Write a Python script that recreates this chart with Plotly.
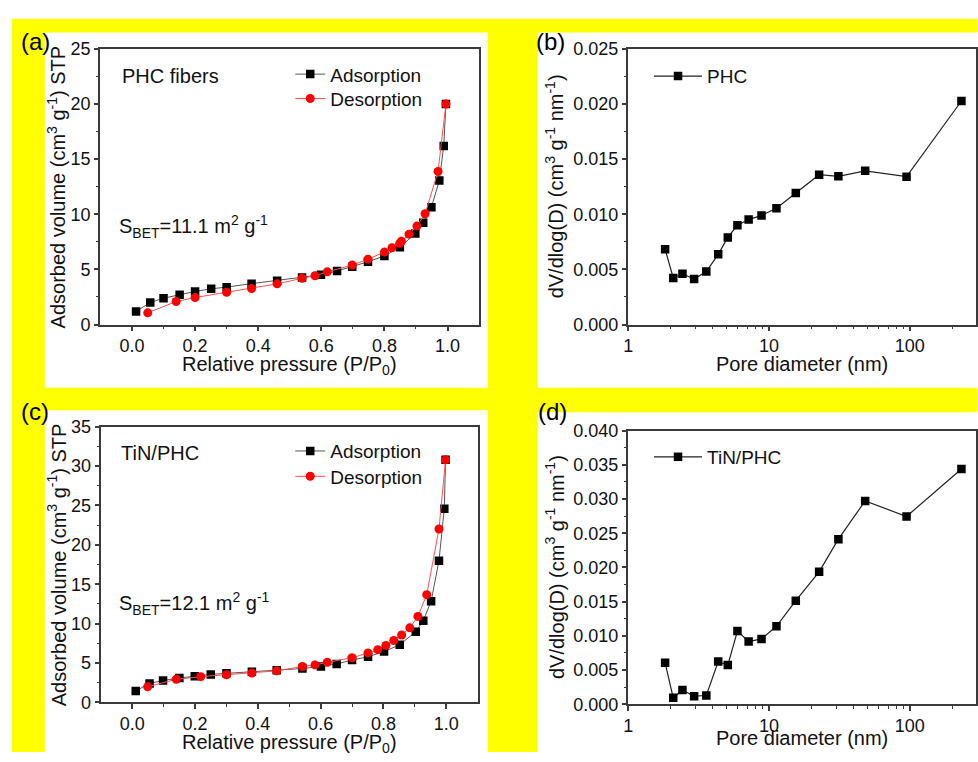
import plotly.graph_objects as go

W, H = 978, 762

# ---- N2 isotherms: relative pressure P/P0 and adsorbed volume (cm3 g-1 STP) ----
phc_ads_p = [0.013, 0.058, 0.10, 0.151, 0.20, 0.251, 0.30, 0.379, 0.46, 0.539, 0.599,
             0.65, 0.698, 0.748, 0.80, 0.849, 0.898, 0.923, 0.949, 0.974, 0.988, 0.995]
phc_ads_v = [1.18, 2.0, 2.39, 2.71, 3.0, 3.24, 3.39, 3.71, 3.98, 4.27, 4.51,
             4.86, 5.25, 5.69, 6.22, 7.02, 8.25, 9.23, 10.64, 13.06, 16.2, 20.0]
phc_des_p = [0.05, 0.14, 0.20, 0.30, 0.379, 0.46, 0.539, 0.58, 0.619, 0.698, 0.748,
             0.80, 0.824, 0.849, 0.854, 0.878, 0.903, 0.929, 0.97, 0.995]
phc_des_v = [1.06, 2.09, 2.45, 2.92, 3.27, 3.69, 4.19, 4.42, 4.78, 5.39, 5.93,
             6.57, 6.96, 7.37, 7.55, 8.2, 8.93, 10.05, 13.89, 20.0]

tin_ads_p = [0.011, 0.055, 0.098, 0.15, 0.199, 0.25, 0.30, 0.381, 0.46, 0.542, 0.601,
             0.651, 0.70, 0.751, 0.802, 0.852, 0.903, 0.927, 0.952, 0.977, 0.994, 0.998]
tin_ads_v = [1.45, 2.40, 2.77, 3.10, 3.31, 3.55, 3.68, 3.88, 4.09, 4.30, 4.55,
             4.88, 5.37, 5.79, 6.45, 7.31, 8.97, 10.37, 12.85, 17.98, 24.59, 30.8]
tin_des_p = [0.049, 0.14, 0.218, 0.30, 0.381, 0.46, 0.542, 0.582, 0.621, 0.70, 0.751,
             0.782, 0.808, 0.833, 0.858, 0.884, 0.91, 0.938, 0.977, 0.998]
tin_des_v = [1.98, 2.93, 3.26, 3.51, 3.72, 4.0, 4.55, 4.75, 5.08, 5.66, 6.28,
             6.69, 7.23, 7.85, 8.56, 9.46, 10.91, 13.68, 22.02, 30.8]

# ---- BJH pore size distributions ----
pore_d = [1.83, 2.09, 2.43, 2.94, 3.59, 4.36, 5.10, 5.97, 7.17, 8.85, 11.3,
          15.5, 22.7, 31.1, 48.2, 94.8, 232.6]
phc_psd = [0.00684, 0.00422, 0.0046, 0.00413, 0.0048, 0.00637, 0.0079, 0.0090, 0.00952,
           0.0099, 0.01055, 0.01194, 0.01359, 0.01344, 0.01394, 0.01341, 0.02028]
tin_psd = [0.00606, 0.00095, 0.0021, 0.00118, 0.00128, 0.00625, 0.00573, 0.0107, 0.00918,
           0.00956, 0.0114, 0.01515, 0.01936, 0.02414, 0.02973, 0.02746, 0.0344]

p_ticks = [0.0, 0.2, 0.4, 0.6, 0.8, 1.0]
p_minor = [0.1, 0.3, 0.5, 0.7, 0.9]
d_ticks = [1, 10, 100]
d_labels = ["1", "10", "100"]
d_minor = [2, 3, 4, 5, 6, 7, 8, 9, 20, 30, 40, 50, 60, 70, 80, 90, 200, 300]

FONT = "Arial, Liberation Sans, sans-serif"
AX = "#3a3a3a"


def fx(px):
    return px / W


def fy(py):
    return 1 - py / H


def minor(**kw):
    d = dict(ticks="outside", ticklen=2.5, tickwidth=1.2, tickcolor=AX)
    d.update(kw)
    return d


def base_axis(**kw):
    d = dict(showline=True, linecolor=AX, linewidth=1.5, mirror=True,
             ticks="outside", ticklen=4.5, tickwidth=1.5, tickcolor=AX,
             showgrid=False, zeroline=False,
             tickfont=dict(family=FONT, size=18, color="#111"))
    d.update(kw)
    return d


fig = go.Figure()

# isotherm panels (each legend entry gets its own legend box)
for xa, ya, la, ld, ap, av, dp, dv in [
        ("x", "y", "legend", "legend5", phc_ads_p, phc_ads_v, phc_des_p, phc_des_v),
        ("x3", "y3", "legend3", "legend6", tin_ads_p, tin_ads_v, tin_des_p, tin_des_v)]:
    fig.add_trace(go.Scatter(
        x=ap, y=av, mode="lines+markers", name="Adsorption", xaxis=xa, yaxis=ya,
        legend=la, showlegend=True, line=dict(color="#555", width=1),
        marker=dict(symbol="square", size=8.5, color="black")))
    fig.add_trace(go.Scatter(
        x=dp, y=dv, mode="lines+markers", name="Desorption", xaxis=xa, yaxis=ya,
        legend=ld, showlegend=True, line=dict(color="#ff5050", width=1),
        marker=dict(symbol="circle", size=9, color="#ff0000")))

# pore size panels
for xa, ya, leg, vals, nm in [("x2", "y2", "legend2", phc_psd, "PHC"),
                              ("x4", "y4", "legend4", tin_psd, "TiN/PHC")]:
    fig.add_trace(go.Scatter(
        x=pore_d, y=vals, mode="lines+markers", name=nm, xaxis=xa, yaxis=ya,
        legend=leg, showlegend=True, line=dict(color="#222", width=1.2),
        marker=dict(symbol="square", size=8.5, color="black")))

# plot-area rectangles in pixels: (left, top, right, bottom)
A = (96, 40, 477, 323)
B = (627, 40, 977, 323)
C = (96.5, 428, 475.5, 711)
D = (627, 432, 977, 713)


def dom(r):
    return [fx(r[0]), fx(r[2])], [fy(r[3]), fy(r[1])]


layout = dict(
    width=W, height=H, margin=dict(l=0, r=0, t=0, b=0),
    paper_bgcolor="white", plot_bgcolor="white", showlegend=True,
    font=dict(family=FONT, color="#111"),
    xaxis=base_axis(domain=dom(A)[0], anchor="y", range=[-0.1, 1.1],
                    tickvals=p_ticks, tickformat=".1f", minor=minor(tickvals=p_minor)),
    yaxis=base_axis(domain=dom(A)[1], anchor="x", range=[0, 25], dtick=5,
                    minor=minor(dtick=2.5)),
    xaxis2=base_axis(domain=dom(B)[0], anchor="y2", type="log", range=[0, 2.47],
                     tickvals=d_ticks, ticktext=d_labels, minor=minor(tickvals=d_minor)),
    yaxis2=base_axis(domain=dom(B)[1], anchor="x2", range=[0, 0.025], dtick=0.005,
                     tickformat=".3f", minor=minor(dtick=0.0025)),
    xaxis3=base_axis(domain=dom(C)[0], anchor="y3", range=[-0.1, 1.1],
                     tickvals=p_ticks, tickformat=".1f", minor=minor(tickvals=p_minor)),
    yaxis3=base_axis(domain=dom(C)[1], anchor="x3", range=[0, 35], dtick=5,
                     minor=minor(dtick=2.5)),
    xaxis4=base_axis(domain=dom(D)[0], anchor="y4", type="log", range=[0, 2.47],
                     tickvals=d_ticks, ticktext=d_labels, minor=minor(tickvals=d_minor)),
    yaxis4=base_axis(domain=dom(D)[1], anchor="x4", range=[0, 0.040], dtick=0.005,
                     tickformat=".3f", minor=minor(dtick=0.0025)),
)

legfont = dict(family=FONT, size=19, color="#111")
for key, lx, ly, iw in [("legend", 287, 66, 30), ("legend5", 287, 91, 30),
                        ("legend2", 648, 68, 48), ("legend4", 648, 459, 48),
                        ("legend3", 287, 453, 30), ("legend6", 287, 479, 30)]:
    layout[key] = dict(x=fx(lx), y=fy(ly), xanchor="left", yanchor="middle",
                       bgcolor="rgba(0,0,0,0)", font=legfont, itemwidth=iw,
                       visible=True)

fig.update_layout(**layout)

# yellow backdrop with white panels
fig.add_shape(type="rect", xref="paper", yref="paper", x0=fx(7), x1=1, y0=0, y1=fy(9),
              fillcolor="#ffff00", line_width=0, layer="below")
for x0, y0, x1, y1 in [(40, 23, 486, 388), (536, 23, 978, 388),
                       (40, 411, 486, 762), (536, 413, 978, 762)]:
    fig.add_shape(type="rect", xref="paper", yref="paper", x0=fx(x0), x1=fx(x1),
                  y0=fy(y1), y1=fy(y0), fillcolor="white", line_width=0, layer="below")

# axis titles
ytitle_iso = "Adsorbed volume (cm<sup>3</sup> g<sup>-1</sup>) STP"
xtitle_iso = "Relative pressure (P/P<sub>0</sub>)"
ytitle_psd = "dV/dlog(D) (cm<sup>3</sup> g<sup>-1</sup> nm<sup>-1</sup>)"
xtitle_psd = "Pore diameter (nm)"
tfont = dict(family=FONT, size=20, color="#111")
for r, xt, yt, ty, tx in [(A, xtitle_iso, ytitle_iso, 365, 52),
                          (B, xtitle_psd, ytitle_psd, 364, 553),
                          (C, xtitle_iso, ytitle_iso, 753, 52),
                          (D, xtitle_psd, ytitle_psd, 748, 553)]:
    fig.add_annotation(text=xt, x=fx((r[0] + r[2]) / 2), y=fy(ty), xref="paper",
                       yref="paper", xanchor="center", yanchor="middle",
                       showarrow=False, font=tfont)
    fig.add_annotation(text=yt, x=fx(tx), y=fy((r[1] + r[3]) / 2), xref="paper",
                       yref="paper", xanchor="center", yanchor="middle",
                       textangle=-90, showarrow=False, font=tfont)

lab = dict(family=FONT, size=24, color="black")
for txt, x, y in [("(a)", 14, 32), ("(b)", 532, 32), ("(c)", 14, 412), ("(d)", 534, 412)]:
    fig.add_annotation(text=txt, x=fx(x), y=fy(y), xref="paper", yref="paper",
                       xanchor="left", yanchor="middle", showarrow=False, font=lab)

note = dict(family=FONT, size=20, color="#111")
for txt, x, y in [("PHC fibers", 116, 68), ("TiN/PHC", 115, 455),
                  ("S<sub>BET</sub>=11.1 m<sup>2</sup> g<sup>-1</sup>", 113, 222),
                  ("S<sub>BET</sub>=12.1 m<sup>2</sup> g<sup>-1</sup>", 113, 610)]:
    fig.add_annotation(text=txt, x=fx(x), y=fy(y), xref="paper", yref="paper",
                       xanchor="left", yanchor="middle", showarrow=False, font=note)

fig.write_html("out.html")
